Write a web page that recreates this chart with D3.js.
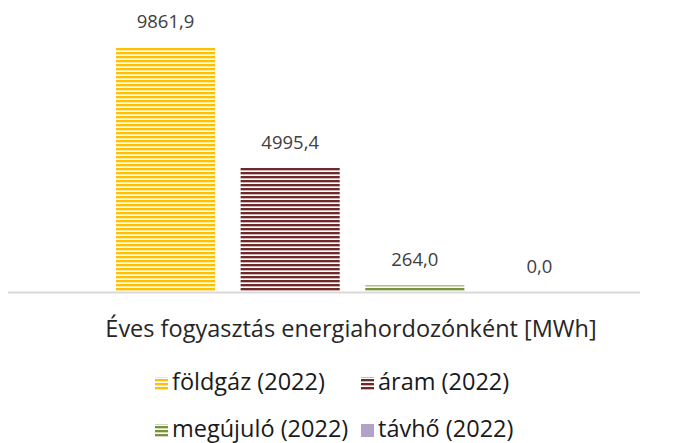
<!DOCTYPE html>
<html>
<head>
<meta charset="utf-8">
<script src="https://cdn.jsdelivr.net/npm/d3@7"></script>
<style>
  body { margin: 0; background: #fff; }
  svg { display: block; font-family: "Open Sans", "Liberation Sans", sans-serif; }
</style>
</head>
<body>
<script>
// Series of the single category, values in MWh
var series = ["földgáz (2022)", "áram (2022)", "megújuló (2022)", "távhő (2022)"]
var values = [9861.9, 4995.4, 264.0, 0.0]
var labels = ["9861,9", "4995,4", "264,0", "0,0"]
var colors = ["#FFC000", "#6E2A2A", "#77933C", "#B3A2C7"]
var striped = [true, true, true, false]

var w = 689
var h = 443

var svg = d3.select("body").append("svg")
  .attr("width", w)
  .attr("height", h)

// Horizontal stripe patterns like the Excel ones
var defs = svg.append("defs")
series.forEach(function(s, i) {
  var p = defs.append("pattern")
    .attr("id", "pat" + i)
    .attr("patternUnits", "userSpaceOnUse")
    .attr("width", 8)
    .attr("height", 4)
  p.append("rect").attr("width", 8).attr("height", 4).attr("fill", "#fff")
  p.append("rect").attr("width", 8).attr("height", 2).attr("fill", colors[i])
  p.append("rect").attr("y", 2).attr("width", 8).attr("height", 1)
    .attr("fill", colors[i]).attr("opacity", 0.35)
})

function fillOf(i) {
  return striped[i] ? "url(#pat" + i + ")" : colors[i]
}

var xScale = d3.scaleBand()
  .domain(series)
  .range([103.5, 601.5])
  .paddingInner(0.205)
  .paddingOuter(0.1)

var yScale = d3.scaleLinear()
  .domain([0, 9861.9])
  .range([292, 47])

// Bars
svg.selectAll("rect.bar")
  .data(values)
  .enter()
  .append("rect")
  .attr("class", "bar")
  .attr("x", function(d, i) { return xScale(series[i]) })
  .attr("y", function(d) { return yScale(d) })
  .attr("width", xScale.bandwidth())
  .attr("height", function(d) { return yScale(0) - yScale(d) })
  .attr("fill", function(d, i) { return fillOf(i) })

// Axis line
svg.append("line")
  .attr("x1", 8).attr("x2", 640)
  .attr("y1", yScale(0) + 0.5).attr("y2", yScale(0) + 0.5)
  .attr("stroke", "#d9d9d9")
  .attr("stroke-width", 2)

// Data labels
svg.selectAll("text.lbl")
  .data(values)
  .enter()
  .append("text")
  .attr("class", "lbl")
  .attr("x", function(d, i) { return xScale(series[i]) + xScale.bandwidth() / 2 })
  .attr("y", function(d) { return yScale(d) - 19 })
  .attr("text-anchor", "middle")
  .style("font-size", "18.5px")
  .style("fill", "#404040")
  .text(function(d, i) { return labels[i] })

// Title below the axis
svg.append("text")
  .attr("x", 351)
  .attr("y", 337)
  .attr("text-anchor", "middle")
  .style("font-size", "23.5px")
  .style("fill", "#262626")
  .text("Éves fogyasztás energiahordozónként [MWh]")

// Legend, two rows
var legendPos = [[155, 383], [361, 383], [155, 430], [361, 430]]
var legend = svg.selectAll("g.leg")
  .data(series)
  .enter()
  .append("g")
  .attr("class", "leg")
  .attr("transform", function(d, i) { return "translate(" + legendPos[i][0] + "," + legendPos[i][1] + ")" })

legend.append("rect")
  .attr("x", 0).attr("y", -6)
  .attr("width", 13).attr("height", 13)
  .attr("fill", function(d, i) { return fillOf(i) })

legend.append("text")
  .attr("x", 17)
  .attr("y", 7)
  .style("font-size", "23.5px")
  .style("fill", "#1a1a1a")
  .text(function(d) { return d })
</script>
</body>
</html>
